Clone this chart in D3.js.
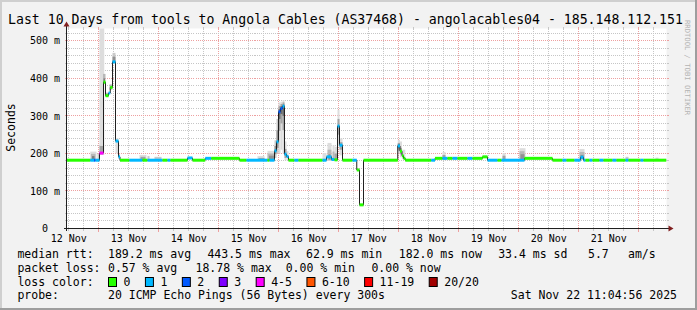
<!DOCTYPE html>
<html>
<head>
<meta charset="utf-8">
<script src="https://cdn.jsdelivr.net/npm/d3@7"></script>
<style>
body { margin: 0; background: #f2f2f2; }
text { font-family: "DejaVu Sans Mono", monospace; fill: #000; white-space: pre; }
</style>
</head>
<body>
<div id="chart"></div>
<script>
// graph spans 10 days (240 h) ending Sat Nov 22 11:04:56 2025
const startTime = Date.UTC(2025, 10, 12, 11, 4, 56);
const spanHours = 240;

// median rtt as steps: hour (from start) where a level begins, ms value, loss bucket
const medHour = [0, 9.5, 11, 11.6, 13.2, 14.8, 15.6, 16.8, 17.5, 18.4, 19.6, 20.8, 21.4,
  25.2, 30.4, 32.4, 38.4, 40.4, 41.6, 48.4, 50.4, 55.5, 57.9, 69.2, 72, 80.4, 81.2,
  83.2, 84, 84.8, 85.6, 86.4, 87.2, 88, 88.8, 91.2, 92.8, 102.4, 104, 106, 107.2,
  108.4, 109.2, 110.4, 114.4, 116.1, 117.2, 118.8, 132.5, 133.4, 134.2, 134.8, 135.5,
  145.9, 147.4, 150.4, 152.4, 154.4, 156.4, 160.4, 162.4, 166.4, 168.4, 172.4, 174,
  183.2, 194.4, 198.4, 200, 203.2, 205.6, 206.8, 207.6, 209.2, 210.4, 213.2, 214.8,
  218.4, 220, 223.6, 224.8, 229.6, 230.8];
const medMs = [182, 182, 182, 182, 201, 390, 354, 361, 376, 444, 233, 191, 182,
  182, 182, 182, 182, 182, 182, 188, 182, 187, 187, 182, 182, 182, 182,
  207, 231, 311, 320, 326, 198, 192, 182, 182, 182, 182, 191, 184, 183,
  273, 222, 182, 182, 156, 63, 182, 220, 206, 194, 187, 182,
  182, 187, 187, 187, 187, 187, 187, 187, 191, 182, 182, 182,
  187, 182, 182, 182, 182, 190, 182, 182, 182, 182, 182, 182,
  182, 182, 182, 182, 182, 182];
const medLoss = [0, 1, 2, 1, 4, 0, 0, 1, 0, 1, 1, 1, 0,
  1, 0, 1, 0, 1, 0, 1, 0, 1, 0, 0, 1, 0, 1,
  1, 1, 2, 2, 1, 1, 1, 0, 1, 0, 1, 1, 1, 0,
  1, 1, 0, 1, 0, 0, 0, 1, 0, 0, 0, 0,
  1, 0, 1, 0, 1, 0, 1, 0, 0, 1, 0, 1,
  0, 0, 1, 0, 1, 1, 1, 0, 1, 0, 1, 0,
  1, 0, 1, 0, 1, 0];

// smoke: [fromHour, toHour, lowMs, highMs, layer]  (layer 1 = outermost pings)
const smoke = [
  [9.5, 12, 180, 205, 1], [9.8, 11.6, 181, 199, 3], [10.2, 11.2, 182, 193, 6],
  [12.4, 13.2, 181, 200, 2],
  [13.2, 15.1, 196, 545, 1], [13.2, 14.6, 198, 220, 4],
  [14.6, 15.6, 385, 412, 3], [14.8, 15.4, 388, 400, 6],
  [15.6, 16.8, 350, 362, 3],
  [17.2, 18.4, 370, 384, 3],
  [18.4, 19.6, 440, 468, 2], [18.4, 19.6, 442, 458, 5],
  [19.6, 20.8, 200, 240, 1],
  [20.8, 21.4, 185, 198, 2],
  [29.2, 32, 180, 196, 1], [29.6, 31.6, 181, 191, 4],
  [32.4, 33.2, 181, 193, 2],
  [35.2, 38, 181, 191, 2],
  [76.4, 79.2, 180, 193, 1], [76.8, 79.2, 181, 188, 4],
  [80.4, 83.2, 180, 207, 1], [80.4, 83.2, 181, 200, 3], [81, 83, 182, 194, 5],
  [83.2, 84, 188, 235, 2], [83.2, 84, 198, 220, 5],
  [84, 84.8, 200, 292, 2], [84, 84.8, 215, 262, 5],
  [84.8, 85.6, 200, 336, 1], [84.8, 85.6, 260, 326, 4], [84.8, 85.6, 292, 318, 7],
  [85.6, 86.4, 210, 338, 1], [85.6, 86.4, 280, 332, 4], [85.6, 86.4, 305, 326, 7],
  [86.4, 87.2, 200, 342, 1], [86.4, 87.2, 262, 336, 4], [86.4, 87.2, 300, 330, 7],
  [87.2, 88, 182, 232, 1], [87.2, 88, 188, 212, 4],
  [88, 88.8, 182, 206, 1],
  [102.4, 104, 180, 201, 1],
  [104.4, 106, 180, 228, 1], [104.4, 106, 182, 210, 3], [104.8, 105.6, 184, 198, 5],
  [106.4, 107.2, 180, 222, 1], [106.4, 107.2, 181, 205, 3],
  [107.2, 108.4, 180, 218, 1], [107.2, 108.4, 182, 200, 4],
  [108.4, 109.2, 220, 316, 1], [108.4, 109.2, 250, 292, 4],
  [109.2, 110.4, 195, 240, 1], [109.2, 110.4, 210, 230, 4],
  [132.5, 133.4, 200, 236, 1], [132.5, 133.4, 208, 228, 4], [132.5, 133.4, 214, 224, 7],
  [133.4, 134.2, 190, 232, 1], [133.4, 134.2, 198, 215, 4],
  [134.2, 135.5, 185, 210, 1],
  [150.4, 151.6, 182, 204, 1], [150.4, 151.6, 183, 196, 4],
  [174.4, 175.6, 182, 201, 1], [174.4, 175.6, 183, 194, 4],
  [181.2, 183.6, 182, 214, 1], [181.2, 183.2, 183, 206, 3], [181.6, 183.2, 184, 198, 5],
  [205.2, 207.2, 183, 212, 1], [205.2, 207.2, 184, 204, 3], [205.6, 206.8, 185, 196, 5],
  [223.6, 224.8, 182, 191, 2],
  [235.6, 236.8, 182, 189, 1]
];

const lossColors = ["#26ff00", "#00b8ff", "#0059ff", "#7e00ff", "#ff00ff", "#ff5500", "#ff0000", "#a10000"];
const lossLabels = ["0", "1", "2", "3", "4-5", "6-10", "11-19", "20/20"];
const yTicks = [0, 100, 200, 300, 400, 500];

const rttStats = ["189.2 ms avg", "443.5 ms max", "62.9 ms min", "182.0 ms now", "33.4 ms sd", "5.7", "am/s"];
const lossStats = ["0.57 % avg", "18.78 % max", "0.00 % min", "0.00 % now"];

const W = 697, H = 310;
const pLeft = 66.5, pRight = 666.5, pTop = 28.5, pBottom = 228.5;

const svg = d3.select("#chart").append("svg")
  .attr("width", W).attr("height", H);

// frame + shades
svg.append("rect").attr("width", W).attr("height", H).attr("fill", "#f2f2f2");
svg.append("path").attr("d", "M0,0H697V2H2V310H0Z").attr("fill", "#cfcfcf");
svg.append("path").attr("d", "M697,0V310H0V308H695V0Z").attr("fill", "#9e9e9e");

const hourDate = function(h) { return new Date(startTime + h * 3600e3); };
const x = d3.scaleUtc().domain([hourDate(0), hourDate(spanHours)]).range([pLeft, pRight]);
const y = d3.scaleLinear().domain([0, 533]).range([pBottom, pTop]);

svg.append("rect").attr("x", pLeft).attr("y", pTop)
  .attr("width", pRight - pLeft).attr("height", pBottom - pTop).attr("fill", "#ffffff");

svg.append("clipPath").attr("id", "plotclip").append("rect")
  .attr("x", pLeft).attr("y", pTop).attr("width", pRight - pLeft).attr("height", pBottom - pTop);

// grid
let minorCol = "#c6c6c6", majorCol = "#eda0a0";
let grid = svg.append("g").attr("shape-rendering", "crispEdges");
let vt = d3.utcHour.every(6).range(hourDate(0), hourDate(spanHours));
vt.forEach(function(d) {
  let major = d.getUTCHours() == 0;
  let xx = Math.floor(x(d)) + 0.5;
  grid.append("line").attr("x1", xx).attr("x2", xx).attr("y1", pTop).attr("y2", pBottom)
    .attr("stroke", major ? majorCol : minorCol).attr("stroke-dasharray", "1,1");
  grid.append("line").attr("x1", xx).attr("x2", xx).attr("y1", pBottom).attr("y2", pBottom + (major ? 3 : 2))
    .attr("stroke", major ? majorCol : minorCol);
  grid.append("line").attr("x1", xx).attr("x2", xx).attr("y1", pTop - 2).attr("y2", pTop)
    .attr("stroke", major ? majorCol : minorCol);
});
d3.range(20, 533, 20).forEach(function(v) {
  let major = v % 100 == 0;
  let yy = Math.floor(y(v)) + 0.5;
  grid.append("line").attr("x1", pLeft).attr("x2", pRight).attr("y1", yy).attr("y2", yy)
    .attr("stroke", major ? majorCol : minorCol).attr("stroke-dasharray", "1,1");
  grid.append("line").attr("x1", pLeft - 2).attr("x2", pLeft).attr("y1", yy).attr("y2", yy)
    .attr("stroke", major ? majorCol : minorCol);
  grid.append("line").attr("x1", pRight).attr("x2", pRight + 2).attr("y1", yy).attr("y2", yy)
    .attr("stroke", major ? majorCol : minorCol);
});

let plot = svg.append("g").attr("clip-path", "url(#plotclip)");

// smoke, outer layers first
let smokeSorted = smoke.slice().sort(function(a, b) { return a[4] - b[4]; });
plot.selectAll(".smoke")
  .data(smokeSorted)
  .enter().append("rect")
  .attr("class", "smoke")
  .attr("x", function(d) { return x(hourDate(d[0])); })
  .attr("width", function(d) { return x(hourDate(d[1])) - x(hourDate(d[0])); })
  .attr("y", function(d) { return y(d[3]); })
  .attr("height", function(d) { return y(d[2]) - y(d[3]); })
  .attr("fill", function(d) {
    let c = Math.floor(190 / 10 * (10 - d[4])) + 50;
    return "rgb(" + c + "," + c + "," + c + ")";
  });

// median steps
let steps = medHour.map(function(h, i) {
  return { h0: h, h1: i < medHour.length - 1 ? medHour[i + 1] : spanHours, v: medMs[i], loss: medLoss[i] };
});
let linePts = steps.map(function(s) { return [x(hourDate(s.h0)), y(s.v)]; });
linePts.push([x(hourDate(spanHours)), y(steps[steps.length - 1].v)]);
plot.append("path")
  .attr("d", d3.line().curve(d3.curveStepAfter)(linePts))
  .attr("fill", "none").attr("stroke", "#202020").attr("stroke-width", 1);

plot.selectAll(".med")
  .data(steps)
  .enter().append("rect")
  .attr("class", "med")
  .attr("x", function(d) { return x(hourDate(d.h0)); })
  .attr("width", function(d) { return x(hourDate(d.h1)) - x(hourDate(d.h0)); })
  .attr("y", function(d) { return y(d.v) - 1.5; })
  .attr("height", 3)
  .attr("fill", function(d) { return lossColors[d.loss]; });

// axes
svg.append("line").attr("x1", 63.5).attr("x2", 669).attr("y1", pBottom).attr("y2", pBottom)
  .attr("stroke", "#1f1f1f").attr("shape-rendering", "crispEdges");
svg.append("line").attr("x1", pLeft).attr("x2", pLeft).attr("y1", pBottom + 2).attr("y2", 26)
  .attr("stroke", "#1f1f1f").attr("shape-rendering", "crispEdges");
svg.append("path").attr("d", "M668.5,225.5L673.5,228.5L668.5,231.5Z").attr("fill", "#801f1f");
svg.append("path").attr("d", "M63.5,26.5L66.5,21.5L69.5,26.5Z").attr("fill", "#801f1f");

// y labels
svg.selectAll(".ylab")
  .data(yTicks)
  .enter().append("text")
  .attr("class", "ylab")
  .attr("x", function(d) { return d == 0 ? 60 - 2 * 6.02 : 60; })
  .attr("y", function(d) { return y(d) + 3.6; })
  .attr("text-anchor", "end")
  .style("font-size", "10px")
  .text(function(d) { return d == 0 ? "0" : d + " m"; });

// x labels at noon of each day
let days = d3.utcDay.range(d3.utcDay.floor(hourDate(0)), hourDate(spanHours))
  .map(function(d) { return d3.utcHour.offset(d, 12); })
  .filter(function(d) { return d <= hourDate(spanHours); });
svg.selectAll(".xlab")
  .data(days)
  .enter().append("text")
  .attr("class", "xlab")
  .attr("x", function(d) { return x(d); })
  .attr("y", 241.5)
  .attr("text-anchor", "middle")
  .style("font-size", "10px")
  .text(d3.utcFormat("%-d %b"));

// titles
svg.append("text").attr("x", 8).attr("y", 24).style("font-size", "13.2px")
  .text("Last 10 Days from tools to Angola Cables (AS37468) - angolacables04 - 185.148.112.151");
svg.append("text").attr("transform", "translate(15,127.5) rotate(-90)")
  .attr("text-anchor", "middle").style("font-size", "11.5px").text("Seconds");
svg.append("text").attr("transform", "translate(684.5,20) rotate(90)")
  .style("font-size", "7.2px").style("fill", "#b4b4b4").text("RRDTOOL / TOBI OETIKER");

// legend
const fs = "11.5px", cw = 6.92;
svg.append("text").attr("x", 17.4).attr("y", 257.5).style("font-size", fs).text("median rtt:");
let rttX = [108, 207.4, 306, 398.8, 498.2, 588, 628];
rttStats.forEach(function(s, i) {
  svg.append("text").attr("x", rttX[i]).attr("y", 257.5).style("font-size", fs).text(s);
});
svg.append("text").attr("x", 17.4).attr("y", 271.5).style("font-size", fs).text("packet loss:");
let lossX = [108, 195.5, 285.7, 371.4];
lossStats.forEach(function(s, i) {
  svg.append("text").attr("x", lossX[i]).attr("y", 271.5).style("font-size", fs).text(s);
});
svg.append("text").attr("x", 17.4).attr("y", 285.5).style("font-size", fs).text("loss color:");
let sx = 108.5;
lossLabels.forEach(function(lbl, i) {
  svg.append("rect").attr("x", sx).attr("y", 277.5).attr("width", 8).attr("height", 9)
    .attr("fill", lossColors[i]).attr("stroke", "#000").attr("stroke-width", 1);
  svg.append("text").attr("x", sx + 15).attr("y", 285.5).style("font-size", fs).text(lbl);
  sx = sx + 15 + lbl.length * cw + 15;
});
svg.append("text").attr("x", 17.4).attr("y", 299).style("font-size", fs).text("probe:");
svg.append("text").attr("x", 108).attr("y", 299).style("font-size", fs)
  .text("20 ICMP Echo Pings (56 Bytes) every 300s");
svg.append("text").attr("x", 677).attr("y", 299).attr("text-anchor", "end").style("font-size", fs)
  .text("Sat Nov 22 11:04:56 2025");
</script>
</body>
</html>
